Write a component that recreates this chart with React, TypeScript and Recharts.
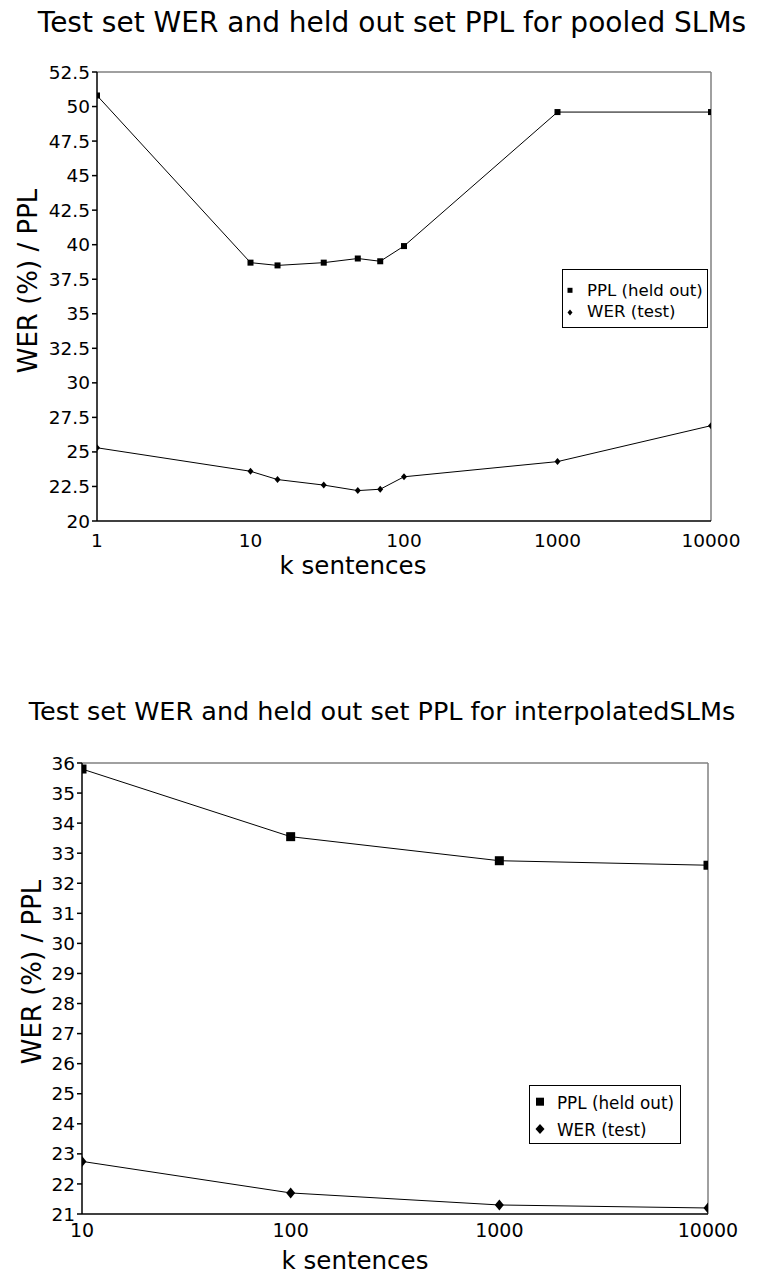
import React from 'react';
import { LineChart, Line, XAxis, YAxis, ReferenceLine, Legend } from 'recharts';

// pooled SLMs (top chart)
const pooledK = [1, 10, 15, 30, 50, 70, 100, 1000, 10000];
const pooledPpl = [50.8, 38.7, 38.5, 38.7, 39.0, 38.8, 39.9, 49.6, 49.6];
const pooledWer = [25.3, 23.6, 23.0, 22.6, 22.2, 22.3, 23.2, 24.3, 26.9];
const pooledXTicks = [1, 10, 100, 1000, 10000];
const pooledYTicks = [20, 22.5, 25, 27.5, 30, 32.5, 35, 37.5, 40, 42.5, 45, 47.5, 50, 52.5];

// interpolated SLMs (bottom chart)
const interpK = [10, 100, 1000, 10000];
const interpPpl = [35.8, 33.55, 32.75, 32.6];
const interpWer = [22.75, 21.7, 21.3, 21.2];
const interpXTicks = [10, 100, 1000, 10000];
const interpYTicks = [21, 22, 23, 24, 25, 26, 27, 28, 29, 30, 31, 32, 33, 34, 35, 36];

const seriesNames = ['PPL (held out)', 'WER (test)'];

const FONT = 'DejaVu Sans';

const pooledData = pooledK.map((k, i) => ({ k, ppl: pooledPpl[i], wer: pooledWer[i] }));
const interpData = interpK.map((k, i) => ({ k, ppl: interpPpl[i], wer: interpWer[i] }));

const squareDot = (size: number) => (props: any) => {
  const { cx, cy, index } = props;
  if (cx == null || cy == null) return <g key={index} />;
  return <rect key={index} x={cx - size / 2} y={cy - size / 2} width={size} height={size} fill="#000" />;
};

const diamondDot = (w: number, h: number) => (props: any) => {
  const { cx, cy, index } = props;
  if (cx == null || cy == null) return <g key={index} />;
  const pts = `${cx},${cy - h / 2} ${cx + w / 2},${cy} ${cx},${cy + h / 2} ${cx - w / 2},${cy}`;
  return <polygon key={index} points={pts} fill="#000" />;
};

interface LegendBox {
  w: number;
  h: number;
  markX: number;
  textX: number;
  rows: number[];
  markY: number[];
  sq: number;
  dw: number;
  dh: number;
  fontSize: number;
}

const legendContent = (b: LegendBox) => () => (
  <svg width={b.w} height={b.h} style={{ display: 'block' }}>
    <rect x={0.5} y={0.5} width={b.w - 1} height={b.h - 1} fill="#fff" stroke="#000" />
    <rect x={b.markX - b.sq / 2} y={b.markY[0] - b.sq / 2} width={b.sq} height={b.sq} fill="#000" />
    <polygon
      points={`${b.markX},${b.markY[1] - b.dh / 2} ${b.markX + b.dw / 2},${b.markY[1]} ${b.markX},${b.markY[1] + b.dh / 2} ${b.markX - b.dw / 2},${b.markY[1]}`}
      fill="#000"
    />
    {seriesNames.map((s, i) => (
      <text key={s} x={b.textX} y={b.rows[i]} fontFamily={FONT} fontSize={b.fontSize} fill="#000">
        {s}
      </text>
    ))}
  </svg>
);

const tickStyle = { fontFamily: FONT, fontSize: 18.5, fill: '#000' };

export default function App() {
  return (
    <div style={{ position: 'absolute', left: 0, top: 0, width: 757, height: 1276, background: '#fff' }}>
      <svg width={757} height={1276} style={{ position: 'absolute', left: 0, top: 0, pointerEvents: 'none' }}>
        <text x={392} y={32} textAnchor="middle" fontFamily={FONT} fontSize={28} fill="#000">
          Test set WER and held out set PPL for pooled SLMs
        </text>
        <text x={382} y={720} textAnchor="middle" fontFamily={FONT} fontSize={25.5} fill="#000">
          Test set WER and held out set PPL for interpolatedSLMs
        </text>
      </svg>

      <div style={{ position: 'absolute', left: 0, top: 0 }}>
        <LineChart width={757} height={600} data={pooledData} margin={{ top: 72, right: 46, left: 37, bottom: 49 }}>
          <XAxis
            dataKey="k"
            type="number"
            scale="log"
            domain={[1, 10000]}
            ticks={pooledXTicks}
            allowDataOverflow
            tickSize={0}
            tickMargin={13}
            tick={tickStyle}
            stroke="#000"
            strokeWidth={1.5}
            height={30}
            label={{
              content: () => (
                <text x={353} y={574} textAnchor="middle" fontFamily={FONT} fontSize={24.5} fill="#000">
                  k sentences
                </text>
              ),
            }}
          />
          <YAxis
            type="number"
            domain={[20, 52.5]}
            ticks={pooledYTicks}
            allowDataOverflow
            interval={0}
            tickSize={5}
            tickMargin={2}
            tick={tickStyle}
            stroke="#000"
            strokeWidth={1.5}
            width={60}
            label={{
              content: () => (
                <text
                  x={37}
                  y={281}
                  transform="rotate(-90 37 281)"
                  textAnchor="middle"
                  fontFamily={FONT}
                  fontSize={26}
                  fill="#000"
                >
                  WER (%) / PPL
                </text>
              ),
            }}
          />
          <ReferenceLine y={52.5} stroke="#808080" strokeWidth={1.5} />
          <ReferenceLine x={10000} stroke="#808080" strokeWidth={1.5} />
          <Legend
            layout="vertical"
            align="center"
            verticalAlign="middle"
            wrapperStyle={{ left: 562, top: 269, width: 146, height: 59 }}
            content={legendContent({
              w: 146,
              h: 59,
              markX: 8,
              textX: 25,
              rows: [26.7, 48.3],
              markY: [21.3, 43.5],
              sq: 5,
              dw: 5,
              dh: 6,
              fontSize: 16.6,
            })}
          />
          <Line
            type="linear"
            dataKey="ppl"
            name={seriesNames[0]}
            stroke="#000"
            strokeWidth={1}
            dot={squareDot(6)}
            activeDot={false}
            isAnimationActive={false}
          />
          <Line
            type="linear"
            dataKey="wer"
            name={seriesNames[1]}
            stroke="#000"
            strokeWidth={1}
            dot={diamondDot(6, 7)}
            activeDot={false}
            isAnimationActive={false}
          />
        </LineChart>
      </div>

      <div style={{ position: 'absolute', left: 0, top: 620 }}>
        <LineChart width={757} height={656} data={interpData} margin={{ top: 143, right: 49, left: 22, bottom: 32 }}>
          <XAxis
            dataKey="k"
            type="number"
            scale="log"
            domain={[10, 10000]}
            ticks={interpXTicks}
            allowDataOverflow
            tickSize={0}
            tickMargin={10}
            tick={{ ...tickStyle, fontSize: 19 }}
            stroke="#000"
            strokeWidth={1.5}
            height={30}
            label={{
              content: () => (
                <text x={355} y={649} textAnchor="middle" fontFamily={FONT} fontSize={24.5} fill="#000">
                  k sentences
                </text>
              ),
            }}
          />
          <YAxis
            type="number"
            domain={[21, 36]}
            ticks={interpYTicks}
            allowDataOverflow
            interval={0}
            tickSize={5}
            tickMargin={2}
            tick={tickStyle}
            stroke="#000"
            strokeWidth={1.5}
            width={60}
            label={{
              content: () => (
                <text
                  x={41}
                  y={352}
                  transform="rotate(-90 41 352)"
                  textAnchor="middle"
                  fontFamily={FONT}
                  fontSize={26}
                  fill="#000"
                >
                  WER (%) / PPL
                </text>
              ),
            }}
          />
          <ReferenceLine y={36} stroke="#808080" strokeWidth={1.5} />
          <ReferenceLine x={10000} stroke="#808080" strokeWidth={1.5} />
          <Legend
            layout="vertical"
            align="center"
            verticalAlign="middle"
            wrapperStyle={{ left: 529, top: 465, width: 152, height: 59 }}
            content={legendContent({
              w: 152,
              h: 59,
              markX: 11,
              textX: 28,
              rows: [24.3, 51],
              markY: [16.7, 44],
              sq: 8,
              dw: 9,
              dh: 10,
              fontSize: 16.8,
            })}
          />
          <Line
            type="linear"
            dataKey="ppl"
            name={seriesNames[0]}
            stroke="#000"
            strokeWidth={1}
            dot={squareDot(9)}
            activeDot={false}
            isAnimationActive={false}
          />
          <Line
            type="linear"
            dataKey="wer"
            name={seriesNames[1]}
            stroke="#000"
            strokeWidth={1}
            dot={diamondDot(9, 11)}
            activeDot={false}
            isAnimationActive={false}
          />
        </LineChart>
      </div>
    </div>
  );
}
